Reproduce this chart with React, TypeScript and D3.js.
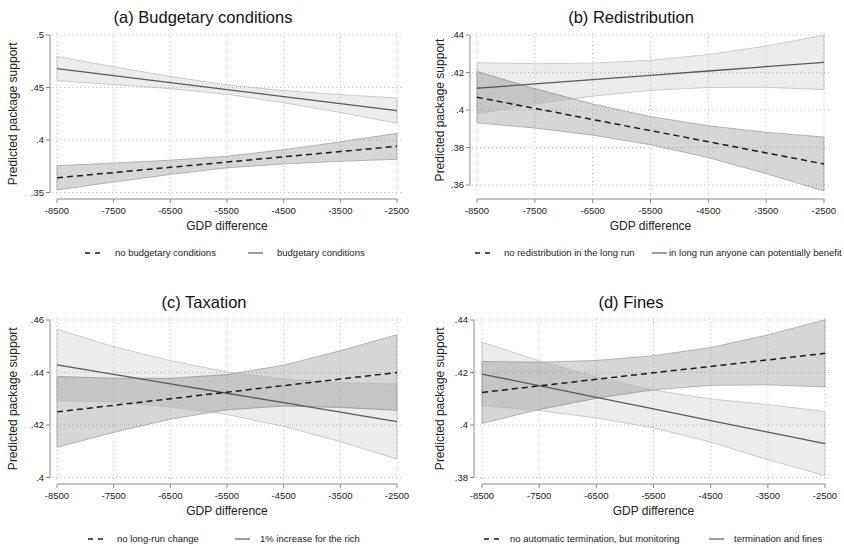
import React from 'react';
import * as d3 from 'd3';

// ---------- data ----------
const gdpDiff = [-8500, -7500, -6500, -5500, -4500, -3500, -2500];
const xTicks = [-8500, -7500, -6500, -5500, -4500, -3500, -2500];

// (a) Budgetary conditions
const titleA = '(a) Budgetary conditions';
const legendA = ['no budgetary conditions', 'budgetary conditions'];
const yTicksA = [0.35, 0.4, 0.45, 0.5];
const noBudgetMean = [0.364, 0.369, 0.374, 0.379, 0.384, 0.389, 0.394];
const noBudgetLow = [0.3524, 0.36, 0.3672, 0.3735, 0.3772, 0.3798, 0.3816];
const noBudgetHigh = [0.3756, 0.378, 0.3808, 0.3845, 0.3908, 0.3982, 0.4064];
const budgetMean = [0.468, 0.4613, 0.4547, 0.448, 0.4413, 0.4347, 0.428];
const budgetLow = [0.4565, 0.4528, 0.4489, 0.4435, 0.4355, 0.4262, 0.416];
const budgetHigh = [0.4795, 0.4698, 0.4605, 0.4525, 0.4471, 0.4432, 0.44];

// (b) Redistribution
const titleB = '(b) Redistribution';
const legendB = ['no redistribution in the long run', 'in long run anyone can potentially benefit'];
const yTicksB = [0.36, 0.38, 0.4, 0.42, 0.44];
const noRedistMean = [0.4068, 0.4009, 0.3949, 0.389, 0.3831, 0.3771, 0.3712];
const noRedistLow = [0.3931, 0.3904, 0.3866, 0.3815, 0.3746, 0.3661, 0.3568];
const noRedistHigh = [0.4205, 0.4114, 0.4032, 0.3965, 0.3916, 0.3881, 0.3856];
const benefitMean = [0.4116, 0.4139, 0.4162, 0.4185, 0.4208, 0.4231, 0.4254];
const benefitLow = [0.398, 0.4031, 0.4074, 0.4105, 0.412, 0.4121, 0.4109];
const benefitHigh = [0.4252, 0.4247, 0.425, 0.4265, 0.4296, 0.4341, 0.4399];

// (c) Taxation
const titleC = '(c) Taxation';
const legendC = ['no long-run change', '1% increase for the rich'];
const yTicksC = [0.4, 0.42, 0.44, 0.46];
const noChangeMean = [0.425, 0.4275, 0.43, 0.4325, 0.435, 0.4375, 0.44];
const noChangeLow = [0.4115, 0.4172, 0.4222, 0.4258, 0.4272, 0.4267, 0.4256];
const noChangeHigh = [0.4385, 0.4378, 0.4378, 0.4392, 0.4428, 0.4483, 0.4544];
const richMean = [0.4429, 0.4393, 0.4357, 0.4321, 0.4285, 0.4249, 0.4213];
const richLow = [0.4293, 0.4288, 0.4269, 0.424, 0.4195, 0.4137, 0.407];
const richHigh = [0.4565, 0.4498, 0.4445, 0.4402, 0.4375, 0.4361, 0.4356];

// (d) Fines
const titleD = '(d) Fines';
const legendD = ['no automatic termination, but monitoring', 'termination and fines'];
const yTicksD = [0.38, 0.4, 0.42, 0.44];
const monitorMean = [0.4124, 0.4149, 0.4174, 0.4199, 0.4223, 0.4248, 0.4273];
const monitorLow = [0.4006, 0.4059, 0.4102, 0.4134, 0.4151, 0.4153, 0.4145];
const monitorHigh = [0.4242, 0.4239, 0.4246, 0.4264, 0.4295, 0.4343, 0.4401];
const finesMean = [0.4194, 0.415, 0.4105, 0.4061, 0.4017, 0.3973, 0.3929];
const finesLow = [0.4073, 0.4055, 0.4027, 0.3989, 0.3935, 0.3868, 0.3807];
const finesHigh = [0.4315, 0.4245, 0.4183, 0.4133, 0.4099, 0.4078, 0.4051];

const xTitle = 'GDP difference';
const yTitle = 'Predicted package support';

// ---------- layout ----------
const panels = [
  {
    title: titleA, legend: legendA, yTicks: yTicksA,
    dashed: [noBudgetMean, noBudgetLow, noBudgetHigh], solid: [budgetMean, budgetLow, budgetHigh],
    yAxisX: 50, xl: 57, xr: 397, yTop: 35, yBot: 192.5, xAxisY: 199, gridR: 402, gridT: 33,
    titleX: 203, yTitleX: 13, leg: [85, 115, 248, 277], legY: 253,
  },
  {
    title: titleB, legend: legendB, yTicks: yTicksB,
    dashed: [noRedistMean, noRedistLow, noRedistHigh], solid: [benefitMean, benefitLow, benefitHigh],
    yAxisX: 470, xl: 477, xr: 824, yTop: 35, yBot: 185, xAxisY: 199, gridR: 829, gridT: 33,
    titleX: 631, yTitleX: 440, leg: [475, 504, 652, 669], legY: 253,
  },
  {
    title: titleC, legend: legendC, yTicks: yTicksC,
    dashed: [noChangeMean, noChangeLow, noChangeHigh], solid: [richMean, richLow, richHigh],
    yAxisX: 50, xl: 57, xr: 397, yTop: 320, yBot: 477.5, xAxisY: 484, gridR: 402, gridT: 318,
    titleX: 204, yTitleX: 13, leg: [88, 117, 235, 260], legY: 539,
  },
  {
    title: titleD, legend: legendD, yTicks: yTicksD,
    dashed: [monitorMean, monitorLow, monitorHigh], solid: [finesMean, finesLow, finesHigh],
    yAxisX: 474, xl: 482, xr: 825, yTop: 320, yBot: 477.5, xAxisY: 484, gridR: 830, gridT: 318,
    titleX: 631, yTitleX: 440, leg: [484, 510, 709, 734], legY: 539,
  },
];

const FONT = '"Liberation Sans", Arial, Helvetica, sans-serif';
const fmtY = (v: number) => String(+v.toFixed(3)).replace(/^0\./, '.');

function Panel({ p }: { p: any }) {
  const yMin = p.yTicks[0];
  const yMax = p.yTicks[p.yTicks.length - 1];
  const x = d3.scaleLinear().domain([-8500, -2500]).range([p.xl, p.xr]);
  const y = d3.scaleLinear().domain([yMin, yMax]).range([p.yBot, p.yTop]);
  const idx = gdpDiff.map((_, i) => i);
  const line = (arr: number[]) =>
    d3.line<number>().x((i) => x(gdpDiff[i])).y((i) => y(arr[i]))(idx) || '';
  const area = (lo: number[], hi: number[]) =>
    d3.area<number>().x((i) => x(gdpDiff[i])).y0((i) => y(lo[i])).y1((i) => y(hi[i]))(idx) || '';
  const gridB = p.xAxisY - 2;
  const gridL = p.yAxisX + 2;
  const cx = (p.xl + p.xr) / 2;
  const cy = (p.yTop + p.yBot) / 2;
  return (
    <g fontFamily={FONT}>
      {/* grid */}
      {p.yTicks.map((t: number) => (
        <line key={'gy' + t} x1={gridL} x2={p.gridR} y1={y(t)} y2={y(t)} stroke="#c4c4c4" strokeWidth={1} strokeDasharray="1 3" />
      ))}
      {xTicks.map((t) => (
        <line key={'gx' + t} x1={x(t)} x2={x(t)} y1={p.gridT} y2={gridB} stroke="#c4c4c4" strokeWidth={1} strokeDasharray="1 3" />
      ))}
      {/* CI bands */}
      <path d={area(p.dashed[1], p.dashed[2])} fill="#000" fillOpacity={0.16} stroke="#9a9a9a" strokeWidth={0.7} />
      <path d={area(p.solid[1], p.solid[2])} fill="#000" fillOpacity={0.075} stroke="#b8b8b8" strokeWidth={0.7} />
      {/* lines */}
      <path d={line(p.solid[0])} fill="none" stroke="#5a5a5a" strokeWidth={1.3} />
      <path d={line(p.dashed[0])} fill="none" stroke="#1a1a1a" strokeWidth={1.5} strokeDasharray="6 4" />
      {/* y axis */}
      <line x1={p.yAxisX} x2={p.yAxisX} y1={y(yMin)} y2={y(yMax)} stroke="#8a8a8a" strokeWidth={1} />
      {p.yTicks.map((t: number) => (
        <g key={'ty' + t}>
          <line x1={p.yAxisX - 4} x2={p.yAxisX} y1={y(t)} y2={y(t)} stroke="#8a8a8a" strokeWidth={1} />
          <text x={p.yAxisX - 6} y={y(t)} dy="0.35em" textAnchor="end" fontSize={9.5} fill="#222">{fmtY(t)}</text>
        </g>
      ))}
      {/* x axis */}
      <line x1={x(-8500)} x2={x(-2500)} y1={p.xAxisY} y2={p.xAxisY} stroke="#8a8a8a" strokeWidth={1} />
      {xTicks.map((t) => (
        <g key={'tx' + t}>
          <line x1={x(t)} x2={x(t)} y1={p.xAxisY} y2={p.xAxisY + 4} stroke="#8a8a8a" strokeWidth={1} />
          <text x={x(t)} y={p.xAxisY + 14.5} textAnchor="middle" fontSize={9.5} fill="#222">{String(t)}</text>
        </g>
      ))}
      {/* titles */}
      <text x={cx} y={p.xAxisY + 31} textAnchor="middle" fontSize={12} fill="#222">{xTitle}</text>
      <text transform={`translate(${p.yTitleX},${cy}) rotate(-90)`} textAnchor="middle" dy="0.35em" fontSize={12} fill="#222">{yTitle}</text>
      <text x={p.titleX} y={p.yTop - 12.5} textAnchor="middle" fontSize={16.5} fill="#111">{p.title}</text>
      {/* legend */}
      <line x1={p.leg[0]} x2={p.leg[0] + 15} y1={p.legY} y2={p.legY} stroke="#1a1a1a" strokeWidth={1.5} strokeDasharray="5 5" />
      <text x={p.leg[1]} y={p.legY} dy="0.35em" fontSize={9.5} fill="#222">{p.legend[0]}</text>
      <line x1={p.leg[2]} x2={p.leg[2] + 15} y1={p.legY} y2={p.legY} stroke="#5a5a5a" strokeWidth={1.2} />
      <text x={p.leg[3]} y={p.legY} dy="0.35em" fontSize={9.5} fill="#222">{p.legend[1]}</text>
    </g>
  );
}

export default function App() {
  return (
    <svg width={844} height={549} style={{ position: 'absolute', left: 0, top: 0, background: '#fff' }}>
      <rect x={0} y={0} width={844} height={549} fill="#fff" />
      {panels.map((p, i) => (
        <Panel key={i} p={p} />
      ))}
    </svg>
  );
}
